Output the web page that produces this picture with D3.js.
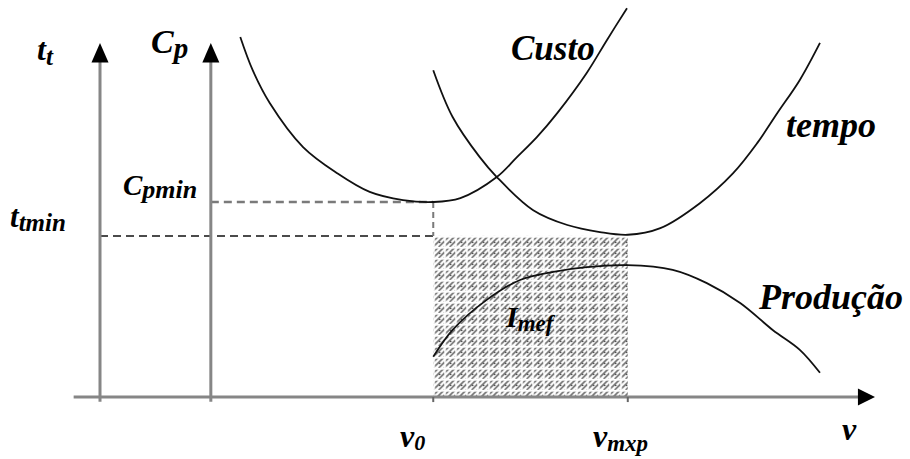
<!DOCTYPE html>
<html lang="pt">
<head>
<meta charset="UTF-8">
<title>Intervalo de máxima eficiência</title>
<style>
  body{margin:0;background:#fff;}
  .axis{stroke:#868686;stroke-width:3;}
  .curve{fill:none;stroke:#111;stroke-width:1.8;}
</style>
</head>
<body>
<script src="https://cdn.jsdelivr.net/npm/d3@7/dist/d3.min.js"></script>
<script>
// valores: [v, valor]
const custo = [
  [18.1, 92.3], [19.7, 83.8], [21.9, 75.4], [26.2, 64.1], [30.6, 57.4],
  [34.8, 52.6], [39.1, 50.5], [43.0, 50.0], [46.5, 51.0], [51.2, 56.4],
  [53.8, 61.5], [56.4, 66.7], [59.0, 72.8], [62.8, 83.1], [65.4, 91.5], [68.0, 99.7]
];
const tempo = [
  [43.0, 83.8], [45.5, 71.8], [49.0, 61.5], [51.2, 56.4], [55.9, 47.9],
  [60.3, 44.1], [64.5, 42.3], [68.1, 41.6], [72.3, 43.3], [77.4, 49.7],
  [81.7, 57.4], [84.8, 65.1], [87.4, 72.8], [90.3, 81.3], [92.9, 90.8]
];
const producao = [
  [43.0, 10.3], [45.5, 17.2], [49.9, 24.9], [54.2, 30.0], [58.5, 32.1],
  [62.8, 33.3], [68.0, 33.8], [73.9, 32.6], [78.3, 29.2], [82.6, 24.1],
  [86.8, 17.2], [90.3, 12.1], [92.9, 6.2]
];
const v0 = 43.0, vmxp = 68.1;
const cpMin = 50.0, ttMin = 41.3;
const axisTt = 0, axisCp = 14.3;

const width = 910, height = 459;
const x = d3.scaleLinear().domain([0, 100]).range([100, 875]);
const y = d3.scaleLinear().domain([0, 100]).range([397, 7]);

const svg = d3.select('body').append('svg')
  .attr('width', width).attr('height', height);

// hachura
const defs = svg.append('defs');
const pat = defs.append('pattern').attr('id', 'hatch')
  .attr('patternUnits', 'userSpaceOnUse')
  .attr('x', x(v0)).attr('y', y(ttMin))
  .attr('width', 11).attr('height', 11);
pat.append('rect').attr('width', 11).attr('height', 11).attr('fill', '#fff');
[-11, -5.5, 0, 5.5, 11].forEach(function(o){
  pat.append('line').attr('x1', o).attr('y1', 11).attr('x2', o + 11).attr('y2', 0)
    .attr('stroke', '#6e6e6e').attr('stroke-width', 1.6);
});
pat.append('line').attr('x1', 0).attr('y1', 0.8).attr('x2', 11).attr('y2', 0.8)
  .attr('stroke', '#fff').attr('stroke-width', 1.8);
pat.append('line').attr('x1', 0.8).attr('y1', 0).attr('x2', 0.8).attr('y2', 11)
  .attr('stroke', '#fff').attr('stroke-width', 1.8);
pat.append('circle').attr('cx', 6.5).attr('cy', 6.5).attr('r', 0.8).attr('fill', '#333');

svg.append('rect')
  .attr('x', x(v0)).attr('y', y(ttMin))
  .attr('width', x(vmxp) - x(v0)).attr('height', y(0) - y(ttMin))
  .attr('fill', 'url(#hatch)');

// linhas tracejadas
svg.append('line')
  .attr('x1', x(axisCp)).attr('x2', x(v0)).attr('y1', y(cpMin)).attr('y2', y(cpMin))
  .attr('stroke', '#7a7a7a').attr('stroke-width', 2.4).attr('stroke-dasharray', '8,5');
svg.append('line')
  .attr('x1', x(axisTt)).attr('x2', x(v0)).attr('y1', y(ttMin)).attr('y2', y(ttMin))
  .attr('stroke', '#111').attr('stroke-width', 1.5).attr('stroke-dasharray', '8,5');
svg.append('line')
  .attr('x1', x(v0)).attr('x2', x(v0)).attr('y1', y(cpMin)).attr('y2', y(ttMin))
  .attr('stroke', '#7a7a7a').attr('stroke-width', 2).attr('stroke-dasharray', '6,4');

// eixos
svg.append('line').attr('class', 'axis')
  .attr('x1', x(-3.4)).attr('x2', x(98)).attr('y1', y(0)).attr('y2', y(0));
[axisTt, axisCp].forEach(function(a){
  svg.append('line').attr('class', 'axis')
    .attr('x1', x(a)).attr('x2', x(a)).attr('y1', y(-1.2)).attr('y2', y(87));
  svg.append('path').attr('fill', '#000')
    .attr('d', 'M' + (x(a) - 8.5) + ',' + (y(85.8)) + 'L' + x(a) + ',' + y(90.8) + 'L' + (x(a) + 8.5) + ',' + y(85.8) + 'Z');
});
svg.append('path').attr('fill', '#000')
  .attr('d', 'M' + x(97.8) + ',' + (y(0) - 8.5) + 'L' + x(100) + ',' + y(0) + 'L' + x(97.8) + ',' + (y(0) + 8.5) + 'Z');
// pequenas marcas em v0 e vmxp
[v0, vmxp].forEach(function(v){
  svg.append('line').attr('x1', x(v)).attr('x2', x(v)).attr('y1', y(0)).attr('y2', y(-1.3))
    .attr('stroke', '#666').attr('stroke-width', 2);
});

// curvas
const line = d3.line().curve(d3.curveCatmullRom.alpha(0.5))
  .x(d => x(d[0])).y(d => y(d[1]));
[custo, tempo, producao].forEach(function(s){
  svg.append('path').attr('class', 'curve').attr('d', line(s));
});

// rótulos
function label(px, py, main, sub, size, subSize, dy){
  const t = svg.append('text')
    .attr('font-family', 'Liberation Serif').attr('font-weight', 'bold').attr('font-style', 'italic')
    .attr('fill', '#000')
    .attr('x', px).attr('y', py).attr('font-size', size);
  t.append('tspan').text(main);
  if (sub) t.append('tspan').attr('font-size', subSize).attr('dy', dy).text(sub);
}
label(37, 60, 't', 't', 32, 25, 5);
label(151, 53, 'C', 'p', 34, 29, 5);
label(123, 195, 'C', 'pmin', 29, 26, 3);
label(10, 227, 't', 'tmin', 31, 25, 4);
label(511, 60, 'Custo', null, 35);
label(786, 137, 'tempo', null, 36);
label(759, 309, 'Produção', null, 36);
label(506, 327, 'I', 'mef', 30, 23, 4);
label(400, 447, 'v', '0', 32, 22, 3);
label(593, 447, 'v', 'mxp', 32, 23, 4);
label(842, 440, 'v', null, 32);
</script>
</body>
</html>
